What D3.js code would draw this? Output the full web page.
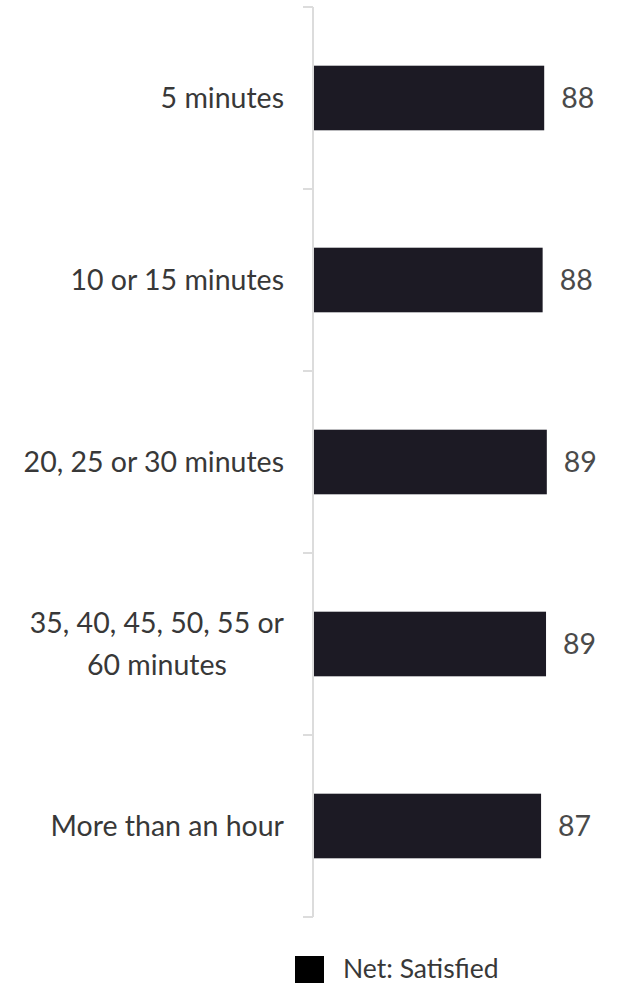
<!DOCTYPE html>
<html>
<head>
<meta charset="utf-8">
<script src="https://cdn.jsdelivr.net/npm/d3@7"></script>
<style>
  html, body { margin: 0; padding: 0; background: #fff; }
  svg { display: block; font-family: Lato, "Noto Sans", sans-serif; }
</style>
</head>
<body>
<svg id="chart" width="623" height="984"></svg>
<script>
// Satisfaction by time bucket (Net: Satisfied, %)
const categories = [
  ["5 minutes"],
  ["10 or 15 minutes"],
  ["20, 25 or 30 minutes"],
  ["35, 40, 45, 50, 55 or", "60 minutes"],
  ["More than an hour"]
];
const satisfied = [88.2, 87.6, 89.2, 88.9, 87.0];
const legendLabel = "Net: Satisfied";

const svg = d3.select("#chart");
const axisX = 313;
const plotTop = 7, plotBottom = 917;

const keys = categories.map(c => c.join(" "));
const y = d3.scaleBand()
  .domain(keys)
  .range([plotTop, plotBottom])
  .paddingInner(0.645)
  .paddingOuter(0.3225);

const x = d3.scaleLinear().domain([0, 100]).range([axisX + 1, 575]);

// category axis with ticks at the band boundaries
const step = y.step();
const boundaries = d3.range(keys.length + 1).map(i => plotTop + i * step);
svg.append("line")
  .attr("x1", axisX).attr("x2", axisX)
  .attr("y1", plotTop).attr("y2", plotBottom)
  .attr("stroke", "#dcdcdc").attr("stroke-width", 2);
svg.selectAll("line.tick").data(boundaries).join("line")
  .attr("class", "tick")
  .attr("x1", axisX - 10).attr("x2", axisX)
  .attr("y1", d => d).attr("y2", d => d)
  .attr("stroke", "#dcdcdc").attr("stroke-width", 2);

// bars
const rows = keys.map((k, i) => ({ key: k, lines: categories[i], value: satisfied[i] }));
svg.selectAll("rect.bar").data(rows).join("rect")
  .attr("class", "bar")
  .attr("x", x(0))
  .attr("y", d => y(d.key))
  .attr("width", d => x(d.value) - x(0))
  .attr("height", y.bandwidth())
  .attr("fill", "#1c1a24");

// value labels
const fmt = d3.format(".0f");
svg.selectAll("text.value").data(rows).join("text")
  .attr("class", "value")
  .attr("x", d => x(d.value) + 17)
  .attr("y", d => y(d.key) + y.bandwidth() / 2)
  .attr("dy", "0.36em")
  .attr("font-size", 28.5)
  .attr("fill", "#4a4a4a")
  .text(d => fmt(d.value));

// category labels (multi-line labels centred within their block, block right-aligned)
const labelRight = 284;
const lineH = 42;
const labels = svg.selectAll("g.cat").data(rows).join("g").attr("class", "cat");
labels.each(function(d) {
  const g = d3.select(this);
  const cy = y(d.key) + y.bandwidth() / 2;
  const n = d.lines.length;
  const texts = d.lines.map((line, j) => g.append("text")
    .attr("font-size", 28.5)
    .attr("fill", "#383838")
    .attr("y", cy + (j - (n - 1) / 2) * lineH)
    .attr("dy", "0.36em")
    .text(line));
  const maxW = d3.max(texts, t => t.node().getComputedTextLength());
  texts.forEach(t => t.attr("text-anchor", "middle").attr("x", labelRight - maxW / 2));
});

// legend
const legend = svg.append("g").attr("transform", "translate(295,956)");
legend.append("rect").attr("width", 29).attr("height", 27).attr("fill", "#000");
legend.append("text")
  .attr("x", 48).attr("y", 12).attr("dy", "0.36em")
  .attr("font-size", 26.5).attr("fill", "#383838")
  .text(legendLabel);
</script>
</body>
</html>
